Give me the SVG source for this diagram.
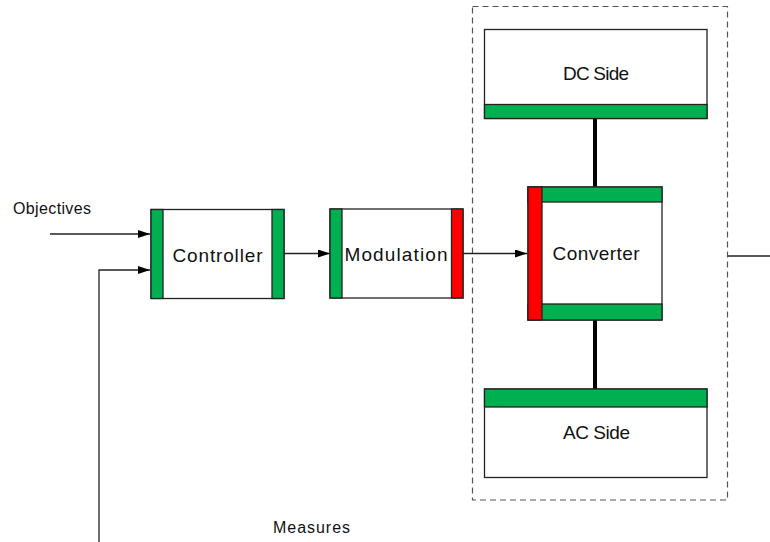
<svg xmlns="http://www.w3.org/2000/svg" width="770" height="542" viewBox="0 0 770 542">
<defs>
<marker id="arr" markerWidth="12" markerHeight="8" refX="12" refY="4" orient="auto" markerUnits="userSpaceOnUse">
<path d="M0,0 L12,4 L0,8 Z" fill="#000"/>
</marker>
<style>
.box{fill:#fff;stroke:#222;stroke-width:1.3}
.g{fill:#00B050;stroke:#222;stroke-width:1.3}
.r{fill:#FF0000;stroke:#222;stroke-width:1.3}
.t{font-family:"Liberation Sans",Arial,sans-serif;fill:#111}
.lbl{font-size:19px;text-anchor:middle}
.sm{font-size:16px}
.ln{stroke:#222;stroke-width:1.3;fill:none}
.thick{stroke:#000;stroke-width:4;fill:none}
</style>
</defs>
<rect x="472.5" y="6.5" width="255" height="493.5" fill="none" stroke="#555" stroke-width="1.2" stroke-dasharray="6,4"/>
<g id="connectors">
<line class="ln" x1="50" y1="234" x2="150" y2="234" marker-end="url(#arr)"/>
<polyline class="ln" points="99,542 99,270 150,270" marker-end="url(#arr)"/>
<line class="ln" x1="284" y1="253.5" x2="330" y2="253.5" marker-end="url(#arr)"/>
<line class="ln" x1="463" y1="253.5" x2="527" y2="253.5" marker-end="url(#arr)"/>
<line class="thick" x1="595" y1="118" x2="595" y2="187"/>
<line class="thick" x1="595" y1="320" x2="595" y2="389"/>
<line class="ln" x1="728" y1="256" x2="770" y2="256"/>
</g>
<g id="objectives"><text class="t sm" x="13" y="214" textLength="78">Objectives</text></g>
<g id="measures"><text class="t sm" x="273" y="533" textLength="77">Measures</text></g>
<g id="controller">
<rect class="box" x="151" y="209.5" width="133" height="89"/>
<rect class="g" x="151" y="209.5" width="12" height="89"/>
<rect class="g" x="272" y="209.5" width="12" height="89"/>
<text class="t lbl" x="217.5" y="262" textLength="90">Controller</text>
</g>
<g id="modulation">
<rect class="box" x="330" y="209" width="133" height="89"/>
<rect class="g" x="330" y="209" width="12" height="89"/>
<rect class="r" x="451.5" y="209" width="11.5" height="89"/>
<text class="t lbl" x="396" y="261" textLength="103">Modulation</text>
</g>
<g id="converter">
<rect class="box" x="528" y="187" width="134" height="133"/>
<rect class="g" x="528" y="187" width="134" height="15"/>
<rect class="g" x="528" y="304" width="134" height="16"/>
<rect class="r" x="528" y="187" width="14" height="133"/>
<text class="t lbl" x="596" y="260" textLength="87">Converter</text>
</g>
<g id="dcside">
<rect class="box" x="484.5" y="29.5" width="222.5" height="89"/>
<rect class="g" x="484.5" y="104.5" width="222.5" height="14"/>
<text class="t lbl" x="596" y="80" textLength="66">DC Side</text>
</g>
<g id="acside">
<rect class="box" x="484.5" y="389" width="222.5" height="88.5"/>
<rect class="g" x="484.5" y="389" width="222.5" height="18"/>
<text class="t lbl" x="596.5" y="439" textLength="67">AC Side</text>
</g>
</svg>
